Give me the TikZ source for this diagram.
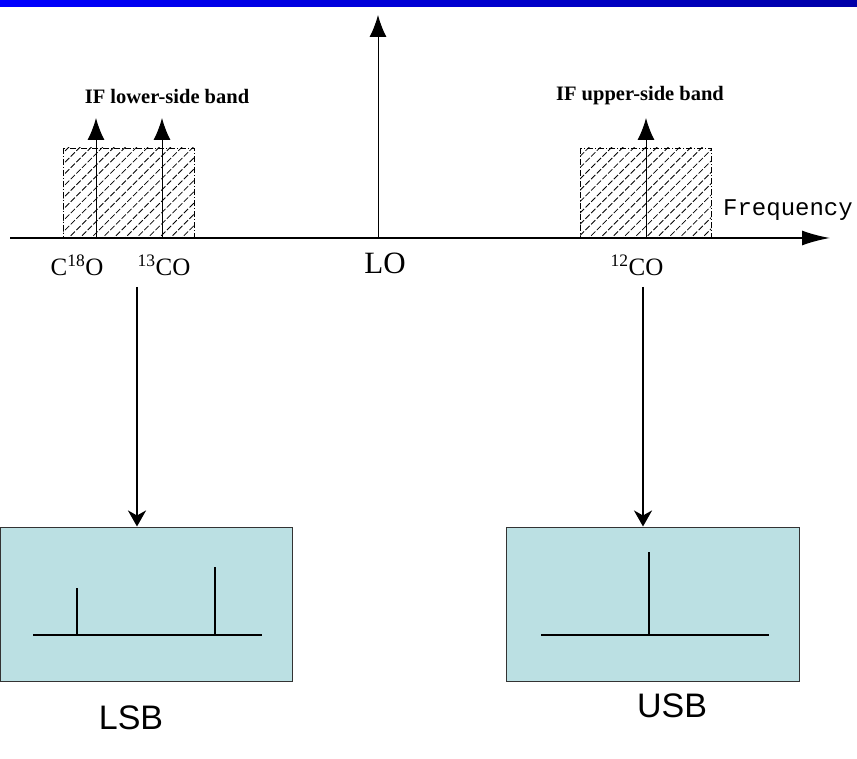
\documentclass[tikz,border=0pt]{standalone}
\usepackage{fontspec}
\setmainfont{Liberation Serif}
\setsansfont{Liberation Sans}
\setmonofont{Liberation Mono}
\usepackage{tikz}
\usepackage{xcolor}
\usetikzlibrary{arrows.meta, positioning, patterns.meta}

\definecolor{boxfill}{HTML}{BBE0E3}
\definecolor{barend}{HTML}{0000A8}

\begin{document}
\begin{tikzpicture}[x=1pt, y=-1pt,
    hatch/.style={pattern={Lines[angle=45, distance=8pt, line width=0.8pt]}, draw, line width=0.7pt, dash pattern=on 6pt off 2pt on 1pt off 2pt},
    sig/.style={line width=1pt, -{Latex[length=22pt, width=17pt]}},
    down/.style={line width=2.5pt, -{Stealth[length=16pt, width=18pt, inset=5pt]}},
    specbox/.style={draw=black!80, line width=1pt, fill=boxfill, minimum width=292pt, minimum height=154pt, inner sep=0pt},
    bandlbl/.style={font=\fontsize{20.5}{24}\selectfont\bfseries},
    linelbl/.style={font=\fontsize{25}{30}\selectfont, inner sep=0pt},
    sblbl/.style={font=\sffamily\fontsize{34}{40}\selectfont, inner sep=0pt}]
    \useasboundingbox (0,0) rectangle (857,759);
    \shade[left color=blue, right color=barend] (0,0) rectangle (857,7);

    % hatched IF bands
    \draw[hatch] (63,148) rectangle (194,238);
    \draw[hatch] (580,148) rectangle (711,238);

    % frequency axis
    \coordinate (axstart) at (10,238);
    \coordinate (axend) at (830,238);
    \draw[line width=1.8pt, -{Latex[length=28pt, width=15pt]}] (axstart) -- (axend);

    % lines and LO
    \coordinate (f18) at (96,238);
    \coordinate (f13) at (162,238);
    \coordinate (flo) at (378,238);
    \coordinate (f12) at (646,238);
    \coordinate (t18) at (96,118);
    \coordinate (t13) at (162,118);
    \coordinate (tlo) at (378,15);
    \coordinate (t12) at (646,118);
    \draw[sig] (f18) -- (t18);
    \draw[sig] (f13) -- (t13);
    \draw[sig] (flo) -- (tlo);
    \draw[sig] (f12) -- (t12);

    \node[bandlbl] (lowband) at (167,96) {IF lower-side band};
    \node[bandlbl] (upband) at (640,96) {IF upper-side band};
    \node[font=\ttfamily\fontsize{24}{28}\selectfont, inner sep=0pt] (freq) at (788,210) {Frequency};

    \node[linelbl] (c18o) at (77,265) {C\textsuperscript{18}O};
    \node[linelbl] (c13o) at (164,265) {\textsuperscript{13}CO};
    \node[font=\fontsize{31}{36}\selectfont, inner sep=0pt] (lo) at (385,263) {LO};
    \node[linelbl] (c12o) at (637,265) {\textsuperscript{12}CO};

    % sideband spectra
    \node[specbox] (lsbbox) at (146,604) {};
    \node[specbox, minimum width=293pt] (usbbox) at (652.5,604) {};
    \coordinate (lsbstart) at (137,287);
    \coordinate (usbstart) at (643,287);
    \draw[down] (lsbstart) -- (lsbstart |- lsbbox.north);
    \draw[down] (usbstart) -- (usbstart |- usbbox.north);

    \draw[line width=1.3pt] (33,635) -- (262,635);
    \draw[line width=1.3pt] (77,635) -- (77,588);
    \draw[line width=1.3pt] (215,635) -- (215,567);
    \draw[line width=1.3pt] (541,635) -- (769,635);
    \draw[line width=1.3pt] (649,635) -- (649,552);

    \node[sblbl] (lsbname) at (131,718) {LSB};
    \node[sblbl] (usbname) at (672,706) {USB};
\end{tikzpicture}
\end{document}
